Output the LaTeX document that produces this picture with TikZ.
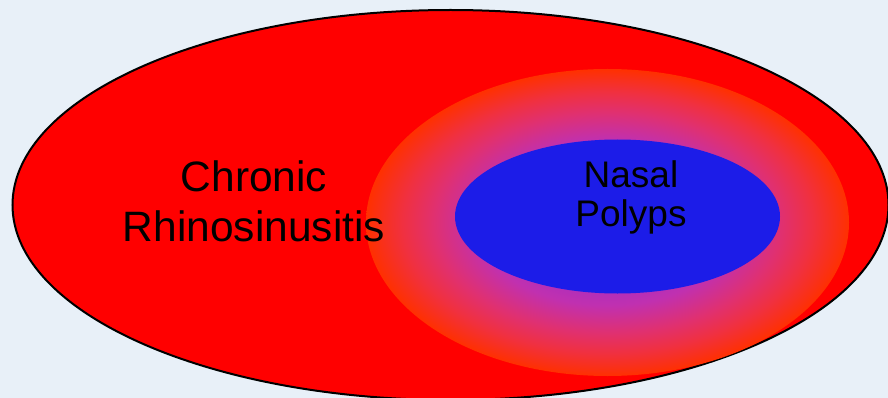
\documentclass[tikz,border=0pt]{standalone}
\usepackage{fontspec}
\setmainfont{Liberation Sans}
\usetikzlibrary{shapes.geometric}
\definecolor{bgblue}{RGB}{232,240,248}
\definecolor{polypblue}{RGB}{28,28,232}
\definecolor{glowred}{RGB}{255,48,0}
\definecolor{glowa}{RGB}{240,48,64}
\definecolor{glowb}{RGB}{224,48,112}
\definecolor{glowc}{RGB}{192,48,176}
\definecolor{glowcore}{RGB}{110,40,230}
\pgfdeclareradialshading{polypglow}{\pgfpoint{0bp}{0bp}}{color(0bp)=(glowcore); color(13.5bp)=(glowc); color(18bp)=(glowb); color(21.25bp)=(glowa); color(25bp)=(glowred); color(50bp)=(glowred)}

\begin{document}
\begin{tikzpicture}[x=1pt, y=-1pt,
    zone/.style={ellipse, inner sep=0pt, outer sep=0pt},
    areatext/.style={align=center, text=black}]
        % Draw background
        \fill[bgblue] (0,0) rectangle (888,398);
        \useasboundingbox (0,0) rectangle (888,398);
        % Draw chronic rhinosinusitis area
        \node[zone, draw=black, line width=2pt, fill=red, minimum width=876pt, minimum height=390pt] (crs) at (450.5,205) {};
        % Draw glow round the polyps
        \node[zone, shade, shading=polypglow, minimum width=483pt, minimum height=307pt] (glow) at (607.5,222.5) {};
        % Draw nasal polyps area
        \node[zone, fill=polypblue, minimum width=325pt, minimum height=154pt] (np) at (617.5,216.5) {};
        % Labels
        \node[areatext, font=\fontsize{42.5}{50}\selectfont] (crstext) at (254,201.8) {Chronic\\Rhinosinusitis};
        \node[areatext, font=\fontsize{37}{39}\selectfont] (nptext) at (631,197.1) {Nasal\\Polyps};
    \end{tikzpicture}
\end{document}
